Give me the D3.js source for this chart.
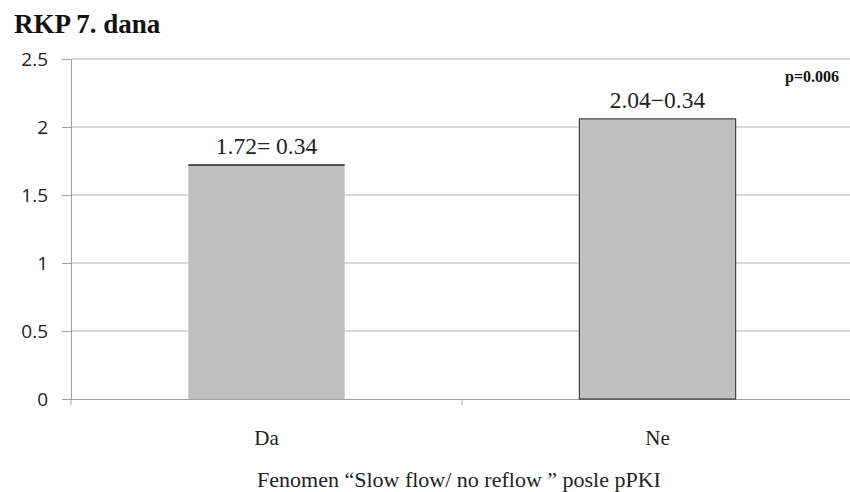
<!DOCTYPE html>
<html><head><meta charset="utf-8">
<script src="https://cdn.jsdelivr.net/npm/d3@7"></script>
<style>body{margin:0;background:#fff}svg{display:block}</style>
</head><body>
<svg id="c" width="850" height="492"></svg>
<script>
const categories = ["Da", "Ne"];
const values = [1.72, 2.06];
const valueLabels = ["1.72= 0.34", "2.04\u22120.34"];
const yTicks = [0, 0.5, 1, 1.5, 2, 2.5];
const title = "RKP 7. dana";
const xTitle = "Fenomen \u201cSlow flow/ no reflow \u201d posle pPKI";
const pText = "p=0.006";

const svg = d3.select("#c");
const L = 71, R = 853, T = 59, B = 399;
const x = d3.scaleBand().domain(categories).range([L, R]).paddingInner(0.6).paddingOuter(0.3);
const xc = d3.scaleBand().domain(categories).range([L, R]);
const y = d3.scaleLinear().domain([0, 2.5]).range([B, T]);
const serif = "'Liberation Serif','Times New Roman',serif";
const sans = "'Open Sans','DejaVu Sans',sans-serif";

// gridlines
svg.append("g").selectAll("line").data(yTicks.filter(d => d > 0)).join("line")
  .attr("x1", L).attr("x2", 850).attr("y1", d => y(d)).attr("y2", d => y(d))
  .attr("stroke", "#b3b3b3").attr("stroke-width", 1);

// y axis
const ya = svg.append("g").attr("transform", `translate(${L},0)`)
  .call(d3.axisLeft(y).tickValues(yTicks).tickFormat(d3.format("")).tickSize(9).tickPadding(14));
ya.select(".domain").attr("stroke", "#a0a0a0");
ya.selectAll(".tick line").attr("stroke", "#a0a0a0");
ya.selectAll("text").attr("font-family", sans).attr("font-size", 19).attr("fill", "#222");

// x axis
const xa = svg.append("g").attr("transform", `translate(0,${B})`)
  .call(d3.axisBottom(xc).tickValues([]).tickSize(0));
xa.select(".domain").attr("stroke", "#a0a0a0").attr("d", `M${L},0.5H850`);
svg.append("g").selectAll("line").data([L, (L + R) / 2]).join("line")
  .attr("x1", d => d).attr("x2", d => d).attr("y1", B).attr("y2", B + 6)
  .attr("stroke", "#a0a0a0");

// bars
svg.append("g").selectAll("rect").data(categories).join("rect")
  .attr("x", d => x(d)).attr("width", x.bandwidth())
  .attr("y", (d, i) => y(values[i])).attr("height", (d, i) => B - y(values[i]))
  .attr("fill", "#c0c0c0")
  .attr("stroke", (d, i) => i === 1 ? "#222" : "none").attr("stroke-width", 1);
// top edge for first bar
svg.append("line").attr("x1", x(categories[0])).attr("x2", x(categories[0]) + x.bandwidth())
  .attr("y1", y(values[0])).attr("y2", y(values[0])).attr("stroke", "#222").attr("stroke-width", 1.5);

// value labels
svg.append("g").selectAll("text").data(categories).join("text")
  .attr("x", d => x(d) + x.bandwidth() / 2).attr("y", (d, i) => y(values[i]) - 11)
  .attr("text-anchor", "middle").attr("font-family", serif).attr("font-size", 23.5)
  .attr("fill", "#222").text((d, i) => valueLabels[i]);

// category labels
svg.append("g").selectAll("text").data(categories).join("text")
  .attr("x", d => xc(d) + xc.bandwidth() / 2).attr("y", 445)
  .attr("text-anchor", "middle").attr("font-family", serif).attr("font-size", 21)
  .attr("fill", "#222").text(d => d);

svg.append("text").attr("x", 459).attr("y", 487).attr("text-anchor", "middle")
  .attr("font-family", serif).attr("font-size", 22).attr("fill", "#222").text(xTitle);

svg.append("text").attr("x", 14).attr("y", 33).attr("font-family", serif)
  .attr("font-weight", "bold").attr("font-size", 27).attr("fill", "#111").text(title);

svg.append("text").attr("x", 839).attr("y", 82).attr("text-anchor", "end").attr("font-family", serif)
  .attr("font-weight", "bold").attr("font-size", 16).attr("fill", "#111").text(pText);
</script>
</body></html>
